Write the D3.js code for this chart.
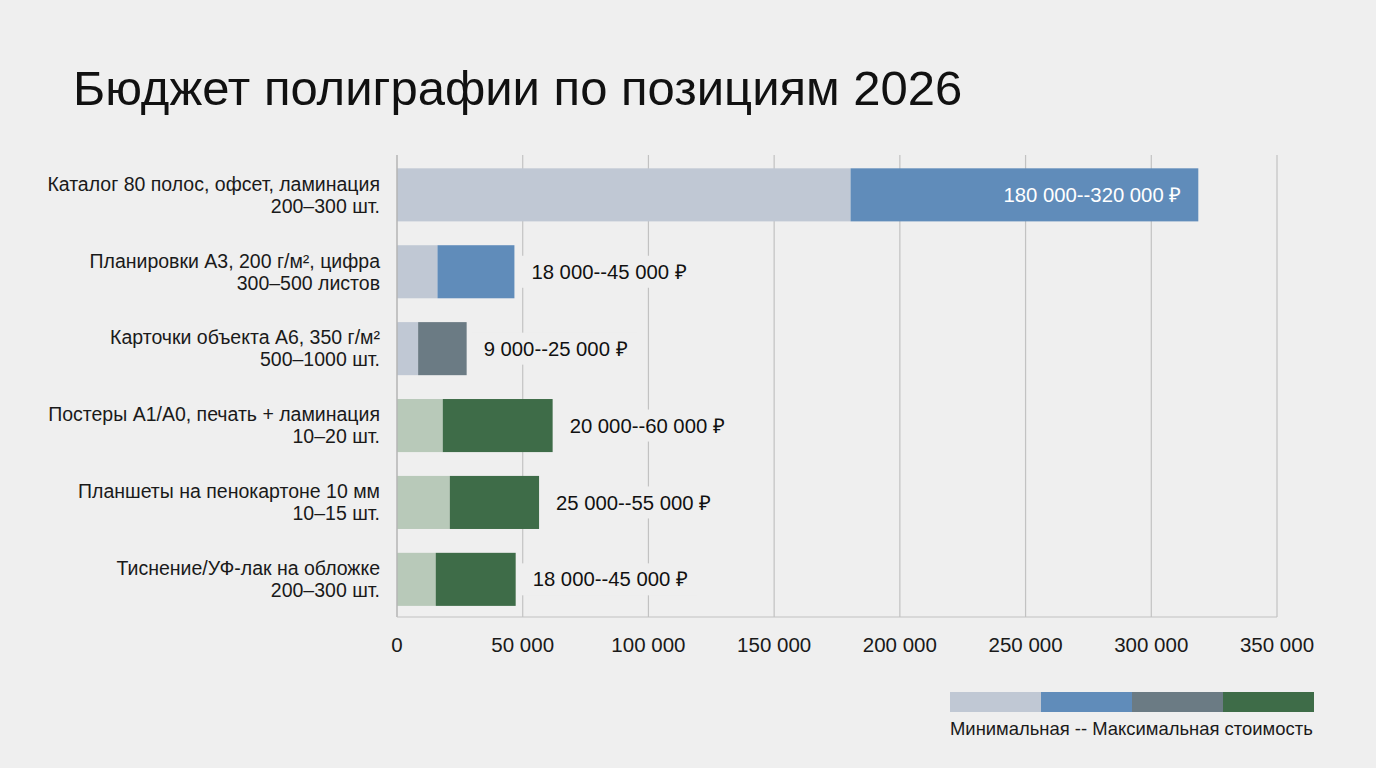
<!DOCTYPE html>
<html><head><meta charset="utf-8">
<script src="https://cdn.jsdelivr.net/npm/d3@7"></script>
<style>
html,body{margin:0;padding:0;background:#efefef;}
svg{display:block;font-family:"Liberation Sans",Arial,sans-serif;}
</style></head>
<body><svg id="c" width="1376" height="768"></svg>
<script>
const title = "Бюджет полиграфии по позициям 2026";
const categories = [
  ["Каталог 80 полос, офсет, ламинация","200–300 шт."],
  ["Планировки А3, 200 г/м², цифра","300–500 листов"],
  ["Карточки объекта А6, 350 г/м²","500–1000 шт."],
  ["Постеры А1/А0, печать + ламинация","10–20 шт."],
  ["Планшеты на пенокартоне 10 мм","10–15 шт."],
  ["Тиснение/УФ-лак на обложке","200–300 шт."]
];
const minValues = [180400, 16100, 8400, 18200, 21000, 15400];
const maxValues = [318700, 46700, 27700, 61900, 56500, 47200];
const valueLabels = ["180 000--320 000 ₽","18 000--45 000 ₽","9 000--25 000 ₽","20 000--60 000 ₽","25 000--55 000 ₽","18 000--45 000 ₽"];
const groups = ["blue","blue","slate","green","green","green"];
const tickValues = [0,50000,100000,150000,200000,250000,300000,350000];
const tickLabels = ["0","50 000","100 000","150 000","200 000","250 000","300 000","350 000"];
const legendText = "Минимальная -- Максимальная стоимость";
const legendColors = ["#c0c8d4","#608cba","#6b7b84","#3e6c48"];

const lightColor = {blue:"#c0c8d4", slate:"#c0c8d4", green:"#b8c9b9"};
const darkColor = {blue:"#608cba", slate:"#6b7b84", green:"#3e6c48"};

const svg = d3.select("#c");
const x = d3.scaleLinear().domain([0,350000]).range([397,1277]);
const y = d3.scaleBand().domain(d3.range(categories.length)).range([156.4,617.8]).paddingInner(0.31).paddingOuter(0.155);

svg.append("text").attr("x",73).attr("y",105).attr("font-size",49).attr("fill","#111").text(title);

// grid
svg.append("g").selectAll("line").data(tickValues.slice(1)).join("line")
  .attr("x1",d=>x(d)).attr("x2",d=>x(d)).attr("y1",155).attr("y2",617)
  .attr("stroke","#c2c2c2").attr("stroke-width",1.2);

// bars
const rows = svg.append("g").selectAll("g").data(d3.range(categories.length)).join("g");
rows.append("rect").attr("x",x(0)).attr("y",i=>y(i)).attr("height",y.bandwidth())
  .attr("width",i=>x(minValues[i])-x(0)).attr("fill",i=>lightColor[groups[i]]);
rows.append("rect").attr("x",i=>x(minValues[i])).attr("y",i=>y(i)).attr("height",y.bandwidth())
  .attr("width",i=>x(maxValues[i])-x(minValues[i])).attr("fill",i=>darkColor[groups[i]]);

// value labels
rows.each(function(i){
  const g = d3.select(this);
  const cy = y(i)+y.bandwidth()/2;
  if(i===0){
    g.append("text").attr("x",x(maxValues[i])-17).attr("y",cy).attr("dy","0.35em")
      .attr("text-anchor","end").attr("font-size",20.3).attr("fill","#fff").text(valueLabels[i]);
  } else {
    const t = g.append("text").attr("x",x(maxValues[i])+17).attr("y",cy).attr("dy","0.35em")
      .attr("font-size",20.3).attr("fill","#111").text(valueLabels[i]);
    const w = t.node().getComputedTextLength();
    g.insert("rect","text").attr("x",x(maxValues[i])+5).attr("y",cy-16).attr("width",w+22).attr("height",32).attr("fill","#efefef");
  }
});

// category labels
const cl = svg.append("g").selectAll("text").data(categories).join("text")
  .attr("text-anchor","end").attr("font-size",19.5).attr("fill","#1a1a1a");
cl.each(function(d,i){
  const cy = y(i)+y.bandwidth()/2;
  d3.select(this).selectAll("tspan").data(d).join("tspan")
    .attr("x",380).attr("y",(t,j)=>cy+(j===0?-11:11)).attr("dy","0.35em").text(t=>t);
});

// axes lines
svg.append("line").attr("x1",x(0)).attr("x2",x(0)).attr("y1",155).attr("y2",617).attr("stroke","#b5b5b5").attr("stroke-width",1.5);
svg.append("line").attr("x1",x(0)).attr("x2",x(350000)).attr("y1",617).attr("y2",617).attr("stroke","#c2c2c2").attr("stroke-width",1.2);

// tick labels
svg.append("g").selectAll("text").data(tickValues).join("text")
  .attr("x",d=>x(d)).attr("y",645).attr("dy","0.35em").attr("text-anchor","middle")
  .attr("font-size",20.5).attr("fill","#1a1a1a").text((d,i)=>tickLabels[i]);

// legend
const lx = d3.scaleBand().domain(d3.range(legendColors.length)).range([950,1314]);
svg.append("g").selectAll("rect").data(legendColors).join("rect")
  .attr("x",(d,i)=>lx(i)).attr("y",692).attr("width",lx.bandwidth()).attr("height",20).attr("fill",d=>d);
const lt = svg.append("text").attr("x",950).attr("y",735).attr("font-size",16).attr("fill","#1a1a1a").text(legendText);
const nat = lt.node().getComputedTextLength();
lt.attr("font-size",16*363/nat);
</script></body></html>
